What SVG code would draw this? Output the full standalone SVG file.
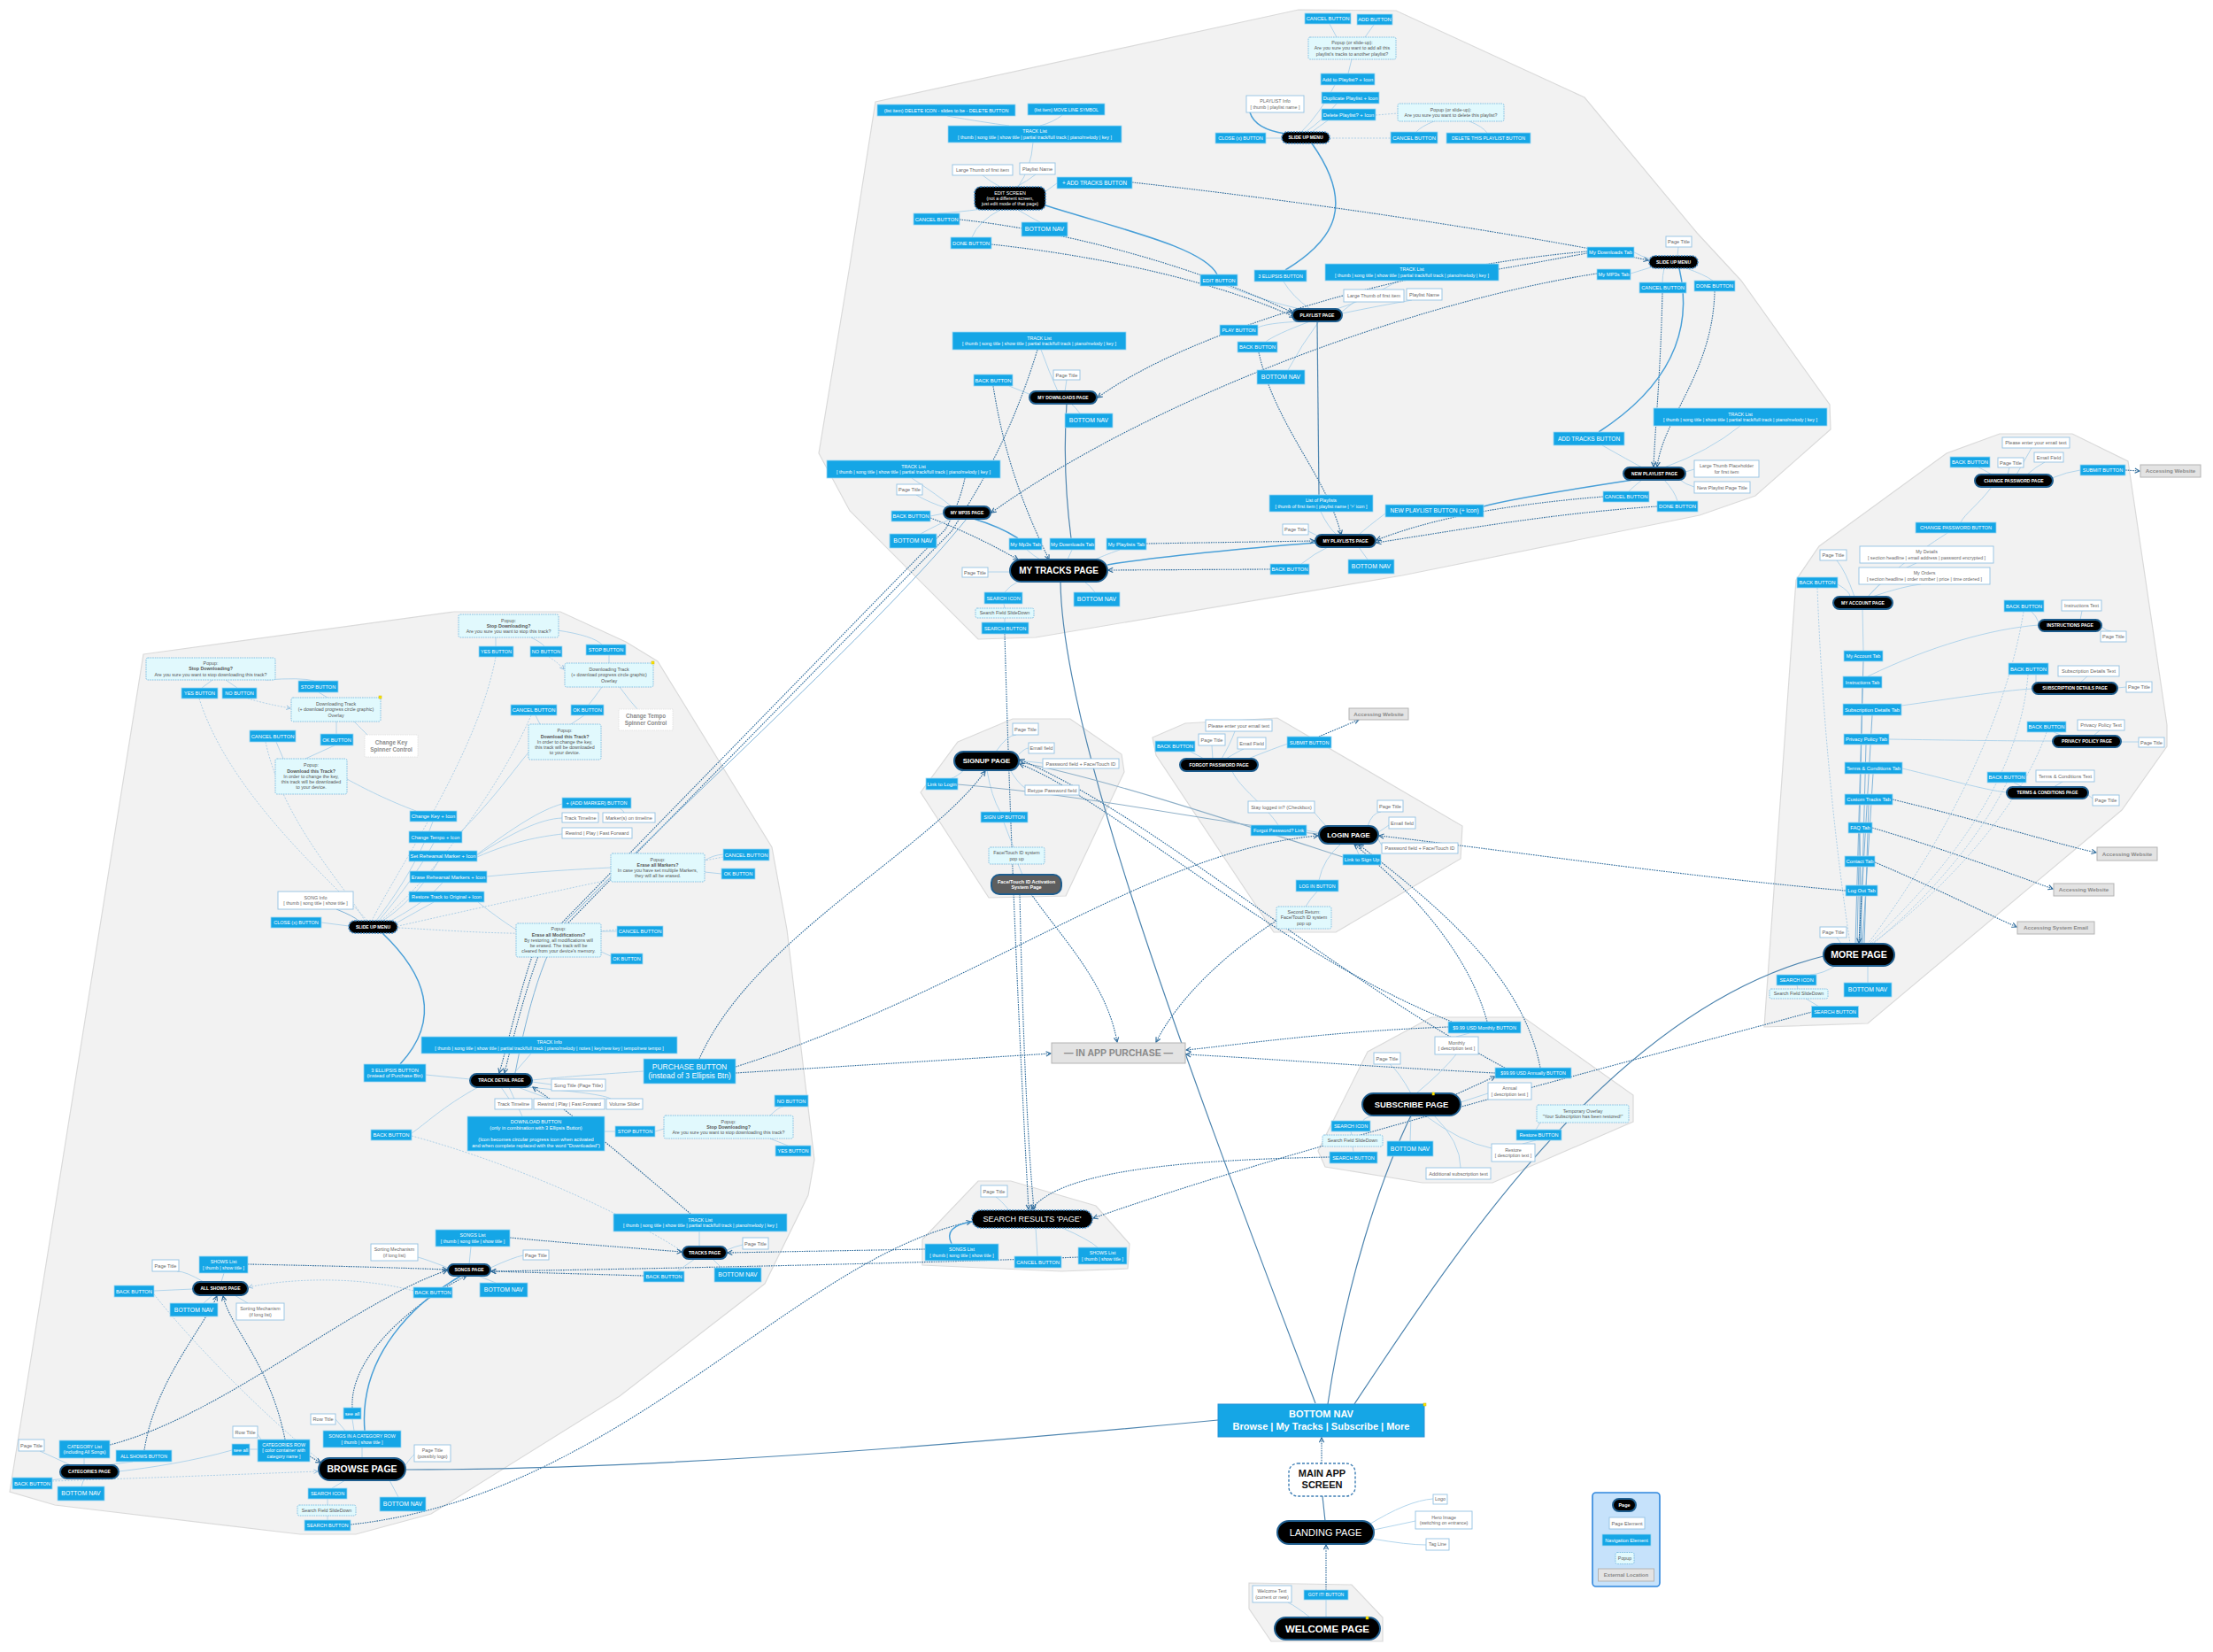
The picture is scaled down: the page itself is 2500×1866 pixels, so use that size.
<svg xmlns="http://www.w3.org/2000/svg" width="2500" height="1866" viewBox="0 0 2500 1866">
<defs>
<style>
text{font-family:"Liberation Sans",Arial,Helvetica,sans-serif;text-anchor:middle}
.grp{fill:#f2f2f2;stroke:#dadada;stroke-width:1.2}
.nv{font-size:5.8px}.nv rect{fill:#15a6e6;stroke:#9fd8f3;stroke-width:.8}.nv text{fill:#fff}
.el{font-size:5.6px}.el rect{fill:#fff;stroke:#93c2e2;stroke-width:.9}.el text{fill:#666}
.pp{font-size:5.3px}.pp rect{fill:#e1f9fd;stroke:#6cb2dc;stroke-width:.8;stroke-dasharray:1.6 1}.pp text{fill:#555}
.pg{font-size:5px;font-weight:bold}.pg rect{fill:#000;stroke:#1e5d8e;stroke-width:2}.pg text{fill:#fff}
.ds rect{stroke:#3d86c2;stroke-dasharray:2 1.2;stroke-width:1.6}
.gy rect{fill:#5e5e5e}
.ex{font-size:6.2px;font-weight:bold}.ex rect{fill:#e3e3e3;stroke:#b3b3b3;stroke-width:1}.ex text{fill:#8a8a8a}
.sp{font-size:6.3px;font-weight:bold}.sp rect{fill:#fff;stroke:#dedede;stroke-width:.8;stroke-dasharray:1.5 1}.sp text{fill:#8a8a8a}
.ms{font-size:11px;font-weight:bold}.ms rect{fill:#fff;stroke:#3f7fb5;stroke-width:1.4;stroke-dasharray:3 2}.ms text{fill:#111}
.l{fill:none;stroke:#a9d0ea;stroke-width:.9}
.t{fill:none;stroke:#7fb3d8;stroke-width:1}
.s{fill:none;stroke:#4f86b0;stroke-width:1.2}
.g{fill:none;stroke:#8fb0c8;stroke-width:1.1}
.b{fill:none;stroke:#4aa0d8;stroke-width:1.5}
.d{fill:none;stroke:#2f6c9c;stroke-width:1.1;stroke-dasharray:1.6 1.1;marker-end:url(#a)}
.d0{fill:none;stroke:#2f6c9c;stroke-width:1.1;stroke-dasharray:1.6 1.1}
.dl{fill:none;stroke:#a6cbe4;stroke-width:.9;stroke-dasharray:2 1.5}
.dla{fill:none;stroke:#a6cbe4;stroke-width:.9;stroke-dasharray:2 1.5;marker-end:url(#b)}
.yd{fill:#ffe800;stroke:#c9b400;stroke-width:.5}
</style>
<marker id="a" viewBox="0 0 8 8" refX="7" refY="4" markerWidth="7" markerHeight="7" markerUnits="userSpaceOnUse" orient="auto"><path d="M1,1 L7,4 L1,7" fill="none" stroke="#2f6c9c" stroke-width="1.3"/></marker>
<marker id="b" viewBox="0 0 8 8" refX="7" refY="4" markerWidth="6" markerHeight="6" markerUnits="userSpaceOnUse" orient="auto"><path d="M1,1 L7,4 L1,7" fill="none" stroke="#8fbde0" stroke-width="1.2"/></marker>
</defs>
<rect width="2500" height="1866" fill="#fff"/>
<g id="groups">
<polygon class="grp" points="989,115 1467,11 1577,12 1790,110 1917,263 1967,317 2067,457 2068,485 1983,560 1920,582 1584,650 1170,720 1105,722 960,577 925,512 960,300"/>
<polygon class="grp" points="2029,655 2055,617 2199,512 2259,490 2341,490 2404,521 2448,819 2448,843 2397,915 2110,1156 1993,1160"/>
<polygon class="grp" points="162,739 513,691 633,691 707,725 743,747 872,957 889,1050 920,1310 913,1350 864,1450 700,1577 487,1710 402,1733 339,1733 62,1700 11,1685"/>
<polygon class="grp" points="1082,838 1144,812 1209,812 1267,852 1270,872 1204,1012 1117,1014 1040,895"/>
<polygon class="grp" points="1302,833 1339,817 1443,811 1652,933 1650,970 1509,1053 1439,1053 1306,853"/>
<polygon class="grp" points="1617,1149 1721,1149 1845,1237 1845,1267 1686,1336 1607,1336 1497,1318 1489,1300 1545,1188"/>
<polygon class="grp" points="1105,1334 1142,1334 1238,1362 1276,1405 1274,1433 1199,1436 1042,1429 1042,1400"/>
<polygon class="grp" points="1411,1788 1527,1790 1562,1827 1562,1854 1436,1854 1411,1817"/>
</g>
<g id="connectors">
<path class="l" d="M1510,42 L1502,27"/>
<path class="l" d="M1542,42 L1552,28"/>
<path class="l" d="M1527,67 L1523,83"/>
<path class="l" d="M1508,96 Q1490,130 1470,149"/>
<path class="l" d="M1510,117 Q1495,135 1475,149"/>
<path class="l" d="M1500,136 Q1490,143 1482,149"/>
<path class="b" d="M1412,127 Q1418,146 1452,151"/>
<path class="dl" d="M1554,130 L1579,128"/>
<path class="l" d="M1620,137 Q1605,143 1600,149"/>
<path class="l" d="M1660,137 Q1675,143 1680,150"/>
<path class="l" d="M1430,156 L1448,156"/>
<path class="dl" d="M1502,156 L1571,156"/>
<path class="b" d="M1482,162 C1530,230 1510,270 1452,305"/>
<path class="l" d="M1070,131 Q1110,138 1140,142"/>
<path class="l" d="M1200,130 Q1190,138 1175,142"/>
<path class="l" d="M1167,161 Q1165,190 1150,211"/>
<path class="l" d="M1110,198 Q1120,206 1130,211"/>
<path class="l" d="M1170,197 Q1160,205 1148,211"/>
<path class="l" d="M1194,207 L1180,217"/>
<path class="l" d="M1110,236 Q1080,240 1060,241"/>
<path class="l" d="M1150,237 Q1165,246 1175,251"/>
<path class="l" d="M1130,237 Q1105,250 1098,268"/>
<path class="b" d="M1181,232 C1270,260 1360,280 1375,310"/>
<path class="l" d="M1385,323 Q1430,340 1468,349"/>
<path class="l" d="M1450,318 Q1460,335 1480,349"/>
<path class="l" d="M1580,317 Q1540,340 1510,349"/>
<path class="l" d="M1516,352 L1530,341"/>
<path class="l" d="M1516,354 Q1560,345 1595,339"/>
<path class="l" d="M1470,363 Q1430,365 1421,370"/>
<path class="l" d="M1480,363 Q1440,378 1430,386"/>
<path class="l" d="M1490,363 Q1470,390 1455,418"/>
<path class="d" d="M1084,248 C1200,260 1350,300 1460,353"/>
<path class="d" d="M1120,276 C1250,290 1380,320 1462,358"/>
<path class="d" d="M1279,206 C1500,230 1750,270 1862,294"/>
<path class="d0" d="M1693,304 C1740,296 1770,290 1793,286"/>
<path class="d" d="M1793,284 C1600,300 1350,370 1240,449"/>
<path class="d" d="M1804,309 C1600,340 1300,450 1120,579"/>
<path class="d" d="M1422,398 C1440,480 1500,540 1515,604"/>
<path class="s" d="M1488,363 L1490,559"/>
<path class="l" d="M1492,578 Q1500,595 1510,604"/>
<path class="l" d="M1565,580 Q1545,595 1535,604"/>
<path class="l" d="M1478,600 L1490,606"/>
<path class="l" d="M1470,637 Q1485,625 1500,618"/>
<path class="l" d="M1545,632 Q1540,625 1535,618"/>
<path class="d" d="M1435,643 L1252,644"/>
<path class="b" d="M1487,613 C1400,620 1300,630 1251,638"/>
<path class="d" d="M1295,614 L1485,611"/>
<path class="l" d="M1160,621 Q1168,628 1175,632"/>
<path class="l" d="M1211,621 L1206,632"/>
<path class="l" d="M1265,621 Q1245,628 1235,633"/>
<path class="b" d="M1100,586 Q1130,595 1150,608"/>
<path class="s" d="M1205,456 Q1200,530 1210,608"/>
<path class="d" d="M1122,436 C1135,520 1160,580 1185,632"/>
<path class="d" d="M1051,585 C1090,600 1120,615 1150,632"/>
<path class="l" d="M1030,540 Q1060,560 1075,572"/>
<path class="l" d="M1035,559 Q1050,568 1070,574"/>
<path class="l" d="M1051,583 L1066,580"/>
<path class="l" d="M1040,603 Q1060,592 1075,586"/>
<path class="l" d="M1176,395 Q1185,420 1195,442"/>
<path class="l" d="M1205,429 L1203,442"/>
<path class="l" d="M1140,436 Q1155,442 1165,446"/>
<path class="l" d="M1220,467 Q1215,460 1210,456"/>
<path class="d" d="M1172,395 C1140,500 1100,560 1075,600 L610,1075 C596,1110 580,1170 570,1212"/>
<path class="d" d="M1090,540 C1086,560 1078,580 1068,598 L603,1075 C590,1110 576,1170 564,1212"/>
<path class="t" d="M1092,586 C1000,700 800,880 640,1040 C610,1080 592,1160 582,1212"/>
<path class="l" d="M1150,657 Q1140,662 1135,669"/>
<path class="l" d="M1141,646 L1116,646"/>
<path class="l" d="M1225,657 Q1232,662 1237,669"/>
<path class="l" d="M1134,682 L1135,687"/>
<path class="l" d="M1135,698 L1135,703"/>
<path class="d" d="M1135,716 C1140,900 1150,1150 1162,1366"/>
<path class="s" d="M1198,657 C1200,820 1320,1150 1486,1585"/>
<path class="l" d="M1895,289 L1896,279"/>
<path class="l" d="M1846,285 Q1855,290 1863,292"/>
<path class="l" d="M1842,309 Q1855,305 1865,302"/>
<path class="l" d="M1880,303 Q1878,312 1878,319"/>
<path class="l" d="M1905,303 Q1925,310 1935,317"/>
<path class="d" d="M1878,331 C1876,420 1870,480 1868,527"/>
<path class="d" d="M1937,329 C1935,420 1880,470 1872,527"/>
<path class="b" d="M1806,488 C1880,440 1915,380 1897,303"/>
<path class="l" d="M1966,481 Q1930,510 1880,528"/>
<path class="l" d="M1810,503 Q1840,520 1855,528"/>
<path class="l" d="M1904,533 L1914,530"/>
<path class="l" d="M1895,540 Q1905,548 1914,550"/>
<path class="l" d="M1855,542 Q1845,550 1840,555"/>
<path class="l" d="M1880,542 Q1892,555 1895,566"/>
<path class="b" d="M1845,542 C1760,555 1700,565 1676,572"/>
<path class="d" d="M1811,561 C1700,570 1620,585 1555,610"/>
<path class="d" d="M1872,572 C1750,580 1640,600 1555,613"/>
<path class="l" d="M1125,849 Q1138,830 1148,830"/>
<path class="l" d="M1151,852 Q1158,845 1162,845"/>
<path class="l" d="M1151,859 L1178,862"/>
<path class="l" d="M1090,869 Q1080,878 1075,879"/>
<path class="l" d="M1140,868 Q1150,885 1158,890"/>
<path class="l" d="M1115,870 Q1120,900 1130,917"/>
<path class="l" d="M1134,929 Q1140,945 1145,957"/>
<path class="l" d="M1150,976 L1155,988"/>
<path class="g" d="M1082,886 C1250,900 1400,935 1490,942"/>
<path class="g" d="M1517,968 C1400,930 1250,880 1152,861"/>
<path class="l" d="M1360,857 L1345,849"/>
<path class="l" d="M1370,857 L1369,842"/>
<path class="l" d="M1380,857 Q1390,840 1395,826"/>
<path class="l" d="M1385,857 Q1400,848 1405,846"/>
<path class="l" d="M1410,857 Q1440,845 1455,840"/>
<path class="d" d="M1490,832 L1535,813"/>
<path class="l" d="M1444,932 C1430,910 1400,890 1392,871"/>
<path class="l" d="M1476,938 L1492,941"/>
<path class="l" d="M1485,918 Q1495,930 1500,935"/>
<path class="l" d="M1545,933 Q1550,918 1560,917"/>
<path class="l" d="M1557,940 Q1565,935 1569,932"/>
<path class="l" d="M1557,948 L1561,955"/>
<path class="l" d="M1530,953 L1535,965"/>
<path class="l" d="M1515,953 Q1495,970 1490,994"/>
<path class="l" d="M1488,1007 Q1480,1015 1475,1024"/>
<path class="d" d="M1442,1040 C1380,1080 1330,1130 1306,1177"/>
<path class="d" d="M1165,1010 C1200,1060 1250,1110 1262,1177"/>
<path class="d" d="M1152,1010 C1155,1150 1160,1280 1168,1366"/>
<path class="d" d="M790,1196 C850,1060 1050,960 1113,871"/>
<path class="d" d="M831,1205 C1100,1120 1300,960 1489,944"/>
<path class="d" d="M831,1212 L1187,1190"/>
<path class="d" d="M1636,1160 C1500,1165 1400,1180 1340,1186"/>
<path class="d" d="M1689,1212 C1550,1205 1420,1195 1340,1191"/>
<path class="d" d="M1640,1154 C1450,1080 1250,900 1152,863"/>
<path class="d" d="M1700,1206 C1500,1100 1300,920 1152,858"/>
<path class="d" d="M1680,1154 C1660,1080 1600,1010 1530,954"/>
<path class="d" d="M1740,1206 C1720,1100 1620,1020 1535,954"/>
<path class="d" d="M2085,1006 C1900,990 1700,960 1558,944"/>
<path class="l" d="M1594,1235 Q1580,1210 1570,1202"/>
<path class="l" d="M1600,1235 Q1630,1210 1645,1191"/>
<path class="l" d="M1645,1171 L1660,1167"/>
<path class="d" d="M1645,1236 L1689,1216"/>
<path class="l" d="M1650,1245 L1681,1235"/>
<path class="l" d="M1610,1260 Q1650,1290 1685,1297"/>
<path class="l" d="M1620,1260 Q1650,1290 1650,1319"/>
<path class="l" d="M1560,1258 Q1540,1262 1540,1266"/>
<path class="l" d="M1594,1260 L1593,1289"/>
<path class="l" d="M1740,1268 L1735,1276"/>
<path class="l" d="M1735,1288 L1720,1292"/>
<path class="l" d="M1526,1278 L1527,1282"/>
<path class="l" d="M1528,1295 L1529,1301"/>
<path class="d" d="M1502,1307 C1350,1310 1200,1320 1165,1366"/>
<path class="d" d="M2047,1143 C1800,1210 1450,1300 1235,1376"/>
<path class="d" d="M396,1722 C700,1690 900,1420 1097,1380"/>
<path class="l" d="M1140,1367 Q1130,1355 1125,1352"/>
<path class="l" d="M1170,1387 L1172,1419"/>
<path class="l" d="M1200,1387 Q1230,1400 1240,1409"/>
<path class="b" d="M1075,1405 Q1065,1385 1098,1380"/>
<path class="d" d="M1045,1411 L822,1415"/>
<path class="d" d="M1218,1420 C1100,1425 800,1432 555,1436"/>
<path class="s" d="M1500,1586 C1520,1450 1560,1330 1594,1260"/>
<path class="s" d="M1530,1586 C1640,1420 1820,1140 2060,1080"/>
<path class="s" d="M1376,1604 C1000,1640 700,1660 459,1660"/>
<path class="d" d="M1493,1653 L1493,1624"/>
<path class="s" d="M1494,1690 L1497,1718"/>
<path class="l" d="M1545,1723 Q1590,1695 1619,1693"/>
<path class="l" d="M1552,1728 L1599,1718"/>
<path class="l" d="M1550,1738 Q1590,1745 1611,1745"/>
<path class="d" d="M1498,1796 L1498,1745"/>
<path class="l" d="M1498,1827 L1498,1807"/>
<path class="l" d="M1480,1827 Q1465,1815 1455,1810"/>
<path class="l" d="M2250,536 Q2240,530 2235,528"/>
<path class="l" d="M2268,536 L2270,528"/>
<path class="l" d="M2278,536 Q2290,515 2295,506"/>
<path class="l" d="M2290,536 Q2300,527 2310,522"/>
<path class="l" d="M2318,540 Q2335,533 2350,531"/>
<path class="d" d="M2401,531 L2417,532"/>
<path class="l" d="M2250,550 C2235,570 2220,580 2215,590"/>
<path class="l" d="M2200,602 Q2140,640 2110,674"/>
<path class="l" d="M2095,674 Q2085,645 2075,633"/>
<path class="l" d="M2110,674 Q2130,650 2165,636"/>
<path class="l" d="M2115,674 Q2150,662 2170,660"/>
<path class="l" d="M2076,660 Q2090,668 2090,674"/>
<path class="l" d="M2104,688 L2105,735"/>
<path class="l" d="M2110,764 C2180,730 2250,710 2303,706"/>
<path class="l" d="M2148,797 C2200,790 2260,780 2296,778"/>
<path class="l" d="M2134,835 C2200,836 2270,837 2319,837"/>
<path class="l" d="M2149,868 C2200,880 2240,892 2267,895"/>
<path class="l" d="M2303,703 Q2300,695 2295,691"/>
<path class="l" d="M2350,700 L2352,690"/>
<path class="l" d="M2374,708 Q2380,713 2385,713"/>
<path class="l" d="M2300,771 L2300,762"/>
<path class="l" d="M2350,771 L2358,764"/>
<path class="l" d="M2392,777 L2402,776"/>
<path class="l" d="M2330,831 L2320,827"/>
<path class="l" d="M2365,831 L2372,825"/>
<path class="l" d="M2396,838 L2416,838"/>
<path class="l" d="M2285,889 L2275,884"/>
<path class="l" d="M2320,889 L2330,883"/>
<path class="l" d="M2359,898 L2364,902"/>
<path class="d" d="M2138,903 C2250,930 2330,955 2368,963"/>
<path class="d" d="M2115,935 C2200,960 2280,990 2319,1004"/>
<path class="d" d="M2118,974 C2180,1000 2240,1030 2278,1047"/>
<path class="t" d="M2105,747 L2096,1066"/>
<path class="t" d="M2104,777 L2098,1066"/>
<path class="t" d="M2115,808 L2100,1066"/>
<path class="t" d="M2108,841 L2102,1066"/>
<path class="t" d="M2116,874 L2104,1066"/>
<path class="t" d="M2111,909 L2106,1066"/>
<path class="t" d="M2101,941 L2103,1066"/>
<path class="t" d="M2101,979 L2101,1066"/>
<path class="d" d="M2103,1012 L2100,1065"/>
<path class="dl" d="M2053,664 C2060,850 2080,1000 2090,1066"/>
<path class="dl" d="M2286,691 C2260,850 2160,1000 2110,1066"/>
<path class="dl" d="M2291,762 C2280,900 2170,1010 2112,1066"/>
<path class="dl" d="M2312,827 C2280,920 2180,1020 2114,1066"/>
<path class="dl" d="M2267,884 C2230,960 2160,1030 2116,1066"/>
<path class="l" d="M2080,1066 L2075,1059"/>
<path class="l" d="M2075,1090 Q2060,1100 2045,1101"/>
<path class="l" d="M2110,1091 L2110,1110"/>
<path class="l" d="M2030,1113 L2031,1117"/>
<path class="l" d="M2040,1128 L2055,1137"/>
<path class="l" d="M560,720 L560,730"/>
<path class="l" d="M600,720 Q612,726 615,730"/>
<path class="l" d="M630,712 Q670,718 680,728"/>
<path class="dla" d="M620,742 Q630,748 637,756"/>
<path class="l" d="M688,740 L688,749"/>
<path class="l" d="M680,776 Q670,790 665,796"/>
<path class="l" d="M700,776 Q710,790 720,801"/>
<path class="l" d="M610,818 L605,808"/>
<path class="l" d="M645,818 L660,808"/>
<path class="l" d="M520,940 C560,900 580,870 597,850"/>
<path class="l" d="M240,768 L228,777"/>
<path class="l" d="M255,768 L268,777"/>
<path class="l" d="M300,768 Q340,765 355,769"/>
<path class="l" d="M360,782 L370,788"/>
<path class="dla" d="M280,789 Q300,795 328,800"/>
<path class="l" d="M380,815 L380,829"/>
<path class="l" d="M400,815 Q410,825 415,830"/>
<path class="l" d="M320,857 L312,838"/>
<path class="l" d="M345,857 L378,842"/>
<path class="l" d="M470,916 C440,905 410,890 392,880"/>
<path class="l" d="M489,928 C470,980 440,1020 425,1040"/>
<path class="l" d="M490,952 C470,990 440,1025 428,1040"/>
<path class="l" d="M495,973 C480,1000 450,1030 432,1040"/>
<path class="l" d="M500,997 C480,1020 450,1035 440,1041"/>
<path class="l" d="M490,1019 Q470,1030 447,1043"/>
<path class="t" d="M380,1027 Q400,1035 405,1040"/>
<path class="l" d="M363,1042 L394,1046"/>
<path class="dl" d="M225,789 C260,900 380,1000 415,1040"/>
<path class="dl" d="M560,742 C540,850 450,980 420,1040"/>
<path class="dl" d="M300,838 C320,930 390,1000 412,1040"/>
<path class="dl" d="M600,808 C560,900 480,1000 430,1040"/>
<path class="l" d="M539,965 C580,935 610,915 635,908"/>
<path class="l" d="M539,966 C580,940 610,925 635,924"/>
<path class="l" d="M539,968 C580,950 610,945 635,942"/>
<path class="l" d="M700,913 Q705,916 705,918"/>
<path class="l" d="M550,990 C600,985 650,982 690,980"/>
<path class="l" d="M796,972 Q805,966 817,965"/>
<path class="l" d="M796,985 L815,987"/>
<path class="l" d="M540,1019 C560,1035 575,1045 583,1050"/>
<path class="l" d="M679,1052 L697,1052"/>
<path class="l" d="M679,1075 L690,1080"/>
<path class="dl" d="M817,968 C700,990 520,1030 450,1046"/>
<path class="dl" d="M697,1050 C600,1060 500,1050 450,1048"/>
<path class="b" d="M432,1054 C480,1100 500,1150 452,1202"/>
<path class="l" d="M600,1190 L580,1213"/>
<path class="l" d="M481,1214 L531,1219"/>
<path class="l" d="M601,1220 C650,1215 700,1212 727,1210"/>
<path class="l" d="M601,1222 L623,1225"/>
<path class="l" d="M566,1228 L575,1241"/>
<path class="l" d="M585,1228 L620,1241"/>
<path class="l" d="M595,1228 Q680,1235 690,1241"/>
<path class="l" d="M575,1228 L590,1261"/>
<path class="l" d="M540,1228 C500,1250 480,1270 465,1280"/>
<path class="l" d="M683,1278 L695,1278"/>
<path class="l" d="M740,1278 L750,1275"/>
<path class="l" d="M870,1260 Q880,1250 885,1250"/>
<path class="l" d="M870,1286 Q885,1292 890,1294"/>
<path class="d" d="M780,1371 C720,1320 650,1260 602,1228"/>
<path class="dl" d="M465,1283 C600,1320 720,1380 770,1413"/>
<path class="l" d="M790,1391 L790,1408"/>
<path class="l" d="M821,1412 Q830,1408 839,1406"/>
<path class="l" d="M785,1422 L765,1436"/>
<path class="l" d="M805,1422 L815,1432"/>
<path class="d" d="M727,1441 L555,1436"/>
<path class="d" d="M576,1398 C650,1405 720,1410 770,1414"/>
<path class="l" d="M530,1428 L532,1408"/>
<path class="l" d="M506,1432 Q480,1422 472,1420"/>
<path class="l" d="M554,1432 Q580,1420 591,1418"/>
<path class="l" d="M520,1441 L500,1454"/>
<path class="l" d="M540,1441 L560,1449"/>
<path class="d" d="M280,1428 C380,1430 450,1432 505,1434"/>
<path class="l" d="M250,1448 L253,1438"/>
<path class="l" d="M230,1448 Q210,1436 200,1436"/>
<path class="l" d="M218,1456 L174,1458"/>
<path class="l" d="M240,1463 L230,1472"/>
<path class="l" d="M265,1463 L280,1472"/>
<path class="dla" d="M467,1458 C400,1440 320,1445 281,1454"/>
<path class="dl" d="M174,1462 C220,1520 300,1600 362,1650"/>
<path class="d" d="M398,1590 C395,1530 470,1470 527,1441"/>
<path class="b" d="M412,1616 C405,1530 470,1470 521,1441"/>
<path class="d" d="M322,1626 C305,1540 260,1500 252,1464"/>
<path class="d" d="M163,1638 C175,1560 230,1500 245,1464"/>
<path class="d" d="M124,1632 C250,1600 400,1470 505,1435"/>
<path class="l" d="M398,1603 L400,1616"/>
<path class="l" d="M379,1603 L390,1616"/>
<path class="l" d="M409,1635 L409,1647"/>
<path class="d" d="M350,1645 L362,1652"/>
<path class="l" d="M291,1620 L295,1626"/>
<path class="l" d="M282,1637 L291,1637"/>
<path class="l" d="M262,1638 C220,1650 170,1658 134,1662"/>
<path class="l" d="M458,1655 Q465,1645 468,1643"/>
<path class="l" d="M390,1672 L375,1681"/>
<path class="l" d="M440,1672 L450,1691"/>
<path class="l" d="M370,1693 L370,1700"/>
<path class="l" d="M370,1712 L370,1717"/>
<path class="dla" d="M59,1673 C150,1670 280,1665 359,1662"/>
<path class="l" d="M80,1655 L45,1639"/>
<path class="l" d="M95,1655 L95,1647"/>
<path class="l" d="M120,1655 L150,1651"/>
<path class="l" d="M75,1670 L55,1672"/>
<path class="l" d="M95,1670 L92,1679"/>
</g>
<g id="nodes">
<g id="t1" class="nv" transform="translate(1500,21)"><rect x="-26" y="-6" width="52" height="12"/><text y="2">CANCEL BUTTON</text></g>
<g id="t2" class="nv" transform="translate(1553,22)"><rect x="-20" y="-6" width="40" height="12"/><text y="2">ADD BUTTON</text></g>
<g id="t3" class="pp" transform="translate(1527.5,54.5)"><rect x="-49.5" y="-12.5" width="99" height="25" rx="2"/><text y="-4.5"><tspan x="0">Popup (or slide-up):</tspan><tspan x="0" dy="6.3">Are you sure you want to add all this</tspan><tspan x="0" dy="6.3">playlist's tracks to another playlist?</tspan></text></g>
<g id="t4" class="nv" transform="translate(1522.5,89.5)"><rect x="-30.5" y="-6.5" width="61" height="13"/><text y="2">Add to Playlist? + Icon</text></g>
<g id="t5" class="nv" transform="translate(1525.5,110.5)"><rect x="-32.5" y="-6.5" width="65" height="13"/><text y="2">Duplicate Playlist + Icon</text></g>
<g id="t6" class="el" transform="translate(1440.5,117.5)"><rect x="-32.5" y="-9.5" width="65" height="19"/><text y="-1.3" font-size="5.3"><tspan x="0">PLAYLIST Info</tspan><tspan x="0" dy="6.4">[ thumb | playlist name ]</tspan></text></g>
<g id="t7" class="nv" transform="translate(1523.5,129.5)"><rect x="-30.5" y="-6.5" width="61" height="13"/><text y="2">Delete Playlist? + Icon</text></g>
<g id="t8" class="pp" transform="translate(1639,127)"><rect x="-60" y="-10" width="120" height="20" rx="2"/><text y="-1.3"><tspan x="0">Popup (or slide-up):</tspan><tspan x="0" dy="6.4">Are you sure you want to delete this playlist?</tspan></text></g>
<g id="t9" class="pg ds" transform="translate(1475,155.5)"><rect x="-27" y="-6.5" width="54" height="13" rx="6.5"/><text y="1.8">SLIDE UP MENU</text></g>
<g id="t10" class="nv" transform="translate(1401.5,156)"><rect x="-28.5" y="-6" width="57" height="12"/><text y="2" font-size="5.5">CLOSE (x) BUTTON</text></g>
<g id="t11" class="nv" transform="translate(1597.5,155.5)"><rect x="-26.5" y="-6.5" width="53" height="13"/><text y="2">CANCEL BUTTON</text></g>
<g id="t12" class="nv" transform="translate(1681.5,156)"><rect x="-47.5" y="-6" width="95" height="12"/><text y="2" font-size="5.3">DELETE THIS PLAYLIST BUTTON</text></g>
<g id="t13" class="nv" transform="translate(1069,124.5)"><rect x="-78" y="-6.5" width="156" height="13"/><text y="2" font-size="5.4">(list item) DELETE ICON - slides to be - DELETE BUTTON</text></g>
<g id="t14" class="nv" transform="translate(1204.5,123.5)"><rect x="-43.5" y="-6.5" width="87" height="13"/><text y="2" font-size="5.1">(list item) MOVE LINE SYMBOL</text></g>
<g id="t15" class="nv" transform="translate(1169,151.5)"><rect x="-98" y="-9.5" width="196" height="19"/><text y="-1.3" font-size="5.3"><tspan x="0">TRACK List</tspan><tspan x="0" dy="6.4">[ thumb | song title | show title | partial track/full track | piano/melody | key ]</tspan></text></g>
<g id="t16" class="el" transform="translate(1110,192)"><rect x="-34" y="-6" width="68" height="12"/><text y="2" font-size="5.4">Large Thumb of first item</text></g>
<g id="t17" class="el" transform="translate(1172,190.5)"><rect x="-20" y="-6.5" width="40" height="13"/><text y="2">Playlist Name</text></g>
<g id="t18" class="nv" transform="translate(1236.5,206.5)"><rect x="-42.5" y="-6.5" width="85" height="13"/><text y="2.2" font-size="6.3">+ ADD TRACKS BUTTON</text></g>
<g id="t19" class="pg ds" transform="translate(1141,224)"><rect x="-40" y="-13" width="80" height="26" rx="7"/><text y="-4.45" font-size="5.3" font-weight="normal"><tspan x="0">EDIT SCREEN</tspan><tspan x="0" dy="6.3">(not a different screen,</tspan><tspan x="0" dy="6.3">just edit mode of that page)</tspan></text></g>
<g id="t20" class="nv" transform="translate(1058,247.5)"><rect x="-26" y="-6.5" width="52" height="13"/><text y="2">CANCEL BUTTON</text></g>
<g id="t21" class="nv" transform="translate(1180,259)"><rect x="-26" y="-8" width="52" height="16"/><text y="2.4" font-size="6.8">BOTTOM NAV</text></g>
<g id="t22" class="nv" transform="translate(1097,274.5)"><rect x="-23" y="-6.5" width="46" height="13"/><text y="2">DONE BUTTON</text></g>
<g id="t23" class="nv" transform="translate(1377,316.5)"><rect x="-21" y="-6.5" width="42" height="13"/><text y="2" font-size="5.6">EDIT BUTTON</text></g>
<g id="t24" class="nv" transform="translate(1446.5,311.5)"><rect x="-29.5" y="-6.5" width="59" height="13"/><text y="2" font-size="5.3">3 ELLIPSIS BUTTON</text></g>
<g id="t25" class="nv" transform="translate(1595,307.5)"><rect x="-98" y="-9.5" width="196" height="19"/><text y="-1.3" font-size="5.3"><tspan x="0">TRACK List</tspan><tspan x="0" dy="6.4">[ thumb | song title | show title | partial track/full track | piano/melody | key ]</tspan></text></g>
<g id="t26" class="pg" transform="translate(1488,356)"><rect x="-28" y="-7" width="56" height="14" rx="7"/><text y="1.8">PLAYLIST PAGE</text></g>
<g id="t27" class="el" transform="translate(1552,334)"><rect x="-34" y="-7" width="68" height="14"/><text y="2" font-size="5.4">Large Thumb of first item</text></g>
<g id="t28" class="el" transform="translate(1609,332.5)"><rect x="-20" y="-6.5" width="40" height="13"/><text y="2">Playlist Name</text></g>
<g id="t29" class="nv" transform="translate(1399.5,373)"><rect x="-21.5" y="-6" width="43" height="12"/><text y="2" font-size="5.6">PLAY BUTTON</text></g>
<g id="t30" class="nv" transform="translate(1420.5,392)"><rect x="-22.5" y="-6" width="45" height="12"/><text y="2">BACK BUTTON</text></g>
<g id="t31" class="nv" transform="translate(1447,426)"><rect x="-27" y="-8" width="54" height="16"/><text y="2.4" font-size="6.8">BOTTOM NAV</text></g>
<g id="t32" class="nv" transform="translate(1174,385)"><rect x="-98" y="-10" width="196" height="20"/><text y="-1.3" font-size="5.3"><tspan x="0">TRACK List</tspan><tspan x="0" dy="6.4">[ thumb | song title | show title | partial track/full track | piano/melody | key ]</tspan></text></g>
<g id="t33" class="el" transform="translate(1205,423.5)"><rect x="-15" y="-5.5" width="30" height="11"/><text y="2">Page Title</text></g>
<g id="t34" class="nv" transform="translate(1122,429.5)"><rect x="-22" y="-6.5" width="44" height="13"/><text y="2">BACK BUTTON</text></g>
<g id="t35" class="pg" transform="translate(1201,449)"><rect x="-38" y="-7" width="76" height="14" rx="7"/><text y="1.8">MY DOWNLOADS PAGE</text></g>
<g id="t36" class="nv" transform="translate(1230,475)"><rect x="-27" y="-8" width="54" height="16"/><text y="2.4" font-size="6.8">BOTTOM NAV</text></g>
<g id="t37" class="nv" transform="translate(1032,530)"><rect x="-98" y="-10" width="196" height="20"/><text y="-1.3" font-size="5.3"><tspan x="0">TRACK List</tspan><tspan x="0" dy="6.4">[ thumb | song title | show title | partial track/full track | piano/melody | key ]</tspan></text></g>
<g id="t38" class="el" transform="translate(1027.5,553)"><rect x="-14.5" y="-6" width="29" height="12"/><text y="2">Page Title</text></g>
<g id="t39" class="nv" transform="translate(1029,583)"><rect x="-22" y="-6" width="44" height="12"/><text y="2">BACK BUTTON</text></g>
<g id="t40" class="pg" transform="translate(1092.5,579)"><rect x="-26.5" y="-7" width="53" height="14" rx="7"/><text y="1.8">MY MP3S PAGE</text></g>
<g id="t41" class="nv" transform="translate(1031.5,611)"><rect x="-26.5" y="-8" width="53" height="16"/><text y="2.4" font-size="6.8">BOTTOM NAV</text></g>
<g id="t42" class="nv" transform="translate(1158.5,614.5)"><rect x="-18.5" y="-6.5" width="37" height="13"/><text y="2">My Mp3s Tab</text></g>
<g id="t43" class="nv" transform="translate(1211.5,614.5)"><rect x="-25.5" y="-6.5" width="51" height="13"/><text y="2">My Downloads Tab</text></g>
<g id="t44" class="nv" transform="translate(1272.5,614.5)"><rect x="-22.5" y="-6.5" width="45" height="13"/><text y="2">My Playlists Tab</text></g>
<g id="t45" class="pg" transform="translate(1196,644.5)"><rect x="-55" y="-12.5" width="110" height="25" rx="12.5" stroke-width="2.6"/><text y="3.5" font-size="10">MY TRACKS PAGE</text></g>
<g id="t46" class="el" transform="translate(1101.5,646.5)"><rect x="-14.5" y="-5.5" width="29" height="11"/><text y="2">Page Title</text></g>
<g id="t47" class="nv" transform="translate(1133.5,675.5)"><rect x="-21.5" y="-6.5" width="43" height="13"/><text y="2" font-size="5.5">SEARCH ICON</text></g>
<g id="t48" class="pp" transform="translate(1135,692.5)"><rect x="-33" y="-5.5" width="66" height="11" rx="2"/><text y="1.9">Search Field SlideDown</text></g>
<g id="t49" class="nv" transform="translate(1135.5,709.5)"><rect x="-26.5" y="-6.5" width="53" height="13"/><text y="2" font-size="5.6">SEARCH BUTTON</text></g>
<g id="t50" class="nv" transform="translate(1239,677)"><rect x="-26" y="-8" width="52" height="16"/><text y="2.4" font-size="6.8">BOTTOM NAV</text></g>
<g id="t51" class="nv" transform="translate(1492.5,568.5)"><rect x="-58.5" y="-9.5" width="117" height="19"/><text y="-1.3" font-size="5.3"><tspan x="0">List of Playlists</tspan><tspan x="0" dy="6.4">[ thumb of first item | playlist name | '&gt;' icon ]</tspan></text></g>
<g id="t52" class="nv" transform="translate(1620.5,577)"><rect x="-55.5" y="-7" width="111" height="14"/><text y="2.3" font-size="6.6">NEW PLAYLIST BUTTON (+ icon)</text></g>
<g id="t53" class="el" transform="translate(1463.5,598)"><rect x="-14.5" y="-6" width="29" height="12"/><text y="2">Page Title</text></g>
<g id="t54" class="pg" transform="translate(1520,611)"><rect x="-34" y="-7" width="68" height="14" rx="7"/><text y="1.8">MY PLAYLISTS PAGE</text></g>
<g id="t55" class="nv" transform="translate(1457,643)"><rect x="-22" y="-6" width="44" height="12"/><text y="2">BACK BUTTON</text></g>
<g id="t56" class="nv" transform="translate(1549,640)"><rect x="-26" y="-8" width="52" height="16"/><text y="2.4" font-size="6.8">BOTTOM NAV</text></g>
<g id="t57" class="el" transform="translate(1896.5,273)"><rect x="-14.5" y="-6" width="29" height="12"/><text y="2">Page Title</text></g>
<g id="t58" class="nv" transform="translate(1819.5,285)"><rect x="-26.5" y="-6" width="53" height="12"/><text y="2">My Downloads Tab</text></g>
<g id="t59" class="pg ds" transform="translate(1890.5,296)"><rect x="-27.5" y="-7" width="55" height="14" rx="7"/><text y="1.8">SLIDE UP MENU</text></g>
<g id="t60" class="nv" transform="translate(1823,310)"><rect x="-19" y="-6" width="38" height="12"/><text y="2">My MP3s Tab</text></g>
<g id="t61" class="nv" transform="translate(1878.5,325)"><rect x="-26.5" y="-6" width="53" height="12"/><text y="2">CANCEL BUTTON</text></g>
<g id="t62" class="nv" transform="translate(1937,323)"><rect x="-23" y="-6" width="46" height="12"/><text y="2">DONE BUTTON</text></g>
<g id="t63" class="nv" transform="translate(1966,471)"><rect x="-98" y="-10" width="196" height="20"/><text y="-1.3" font-size="5.3"><tspan x="0">TRACK List</tspan><tspan x="0" dy="6.4">[ thumb | song title | show title | partial track/full track | piano/melody | key ]</tspan></text></g>
<g id="t64" class="nv" transform="translate(1795,495.5)"><rect x="-40" y="-7.5" width="80" height="15"/><text y="2.3" font-size="6.5">ADD TRACKS BUTTON</text></g>
<g id="t65" class="pg" transform="translate(1869,535)"><rect x="-35" y="-7" width="70" height="14" rx="7"/><text y="1.8">NEW PLAYLIST PAGE</text></g>
<g id="t66" class="el" transform="translate(1950.5,529.5)"><rect x="-36.5" y="-9.5" width="73" height="19"/><text y="-1.3" font-size="5.3"><tspan x="0">Large Thumb Placeholder</tspan><tspan x="0" dy="6.4">for first item</tspan></text></g>
<g id="t67" class="el" transform="translate(1945.5,550.5)"><rect x="-31.5" y="-6.5" width="63" height="13"/><text y="2">New Playlist Page Title</text></g>
<g id="t68" class="nv" transform="translate(1837,561)"><rect x="-26" y="-6" width="52" height="12"/><text y="2">CANCEL BUTTON</text></g>
<g id="t69" class="nv" transform="translate(1895,572)"><rect x="-23" y="-6" width="46" height="12"/><text y="2">DONE BUTTON</text></g>

<g id="r1" class="el" transform="translate(2300,500)"><rect x="-38" y="-6" width="76" height="12"/><text y="2">Please enter your email text</text></g>
<g id="r2" class="el" transform="translate(2314.5,516.5)"><rect x="-16.5" y="-5.5" width="33" height="11"/><text y="2">Email Field</text></g>
<g id="r3" class="nv" transform="translate(2225.5,522)"><rect x="-22.5" y="-6" width="45" height="12"/><text y="2">BACK BUTTON</text></g>
<g id="r4" class="el" transform="translate(2271.5,522.5)"><rect x="-14.5" y="-5.5" width="29" height="11"/><text y="2">Page Title</text></g>
<g id="r5" class="nv" transform="translate(2375.5,531)"><rect x="-25.5" y="-6" width="51" height="12"/><text y="2" font-size="5.6">SUBMIT BUTTON</text></g>
<g id="r6" class="ex" transform="translate(2452,532)"><rect x="-34" y="-7" width="68" height="14"/><text y="2.2">Accessing Website</text></g>
<g id="r7" class="pg" transform="translate(2275,543)"><rect x="-44" y="-7" width="88" height="14" rx="7"/><text y="1.8">CHANGE PASSWORD PAGE</text></g>
<g id="r8" class="nv" transform="translate(2209.5,596)"><rect x="-45.5" y="-6" width="91" height="12"/><text y="2" font-size="5.5">CHANGE PASSWORD BUTTON</text></g>
<g id="r9" class="el" transform="translate(2071,627)"><rect x="-15" y="-6" width="30" height="12"/><text y="2">Page Title</text></g>
<g id="r10" class="el" transform="translate(2176.5,626.5)"><rect x="-75.5" y="-9.5" width="151" height="19"/><text y="-1.3" font-size="5.3"><tspan x="0">My Details</tspan><tspan x="0" dy="6.4">[ section headline | email address | password encrypted ]</tspan></text></g>
<g id="r11" class="el" transform="translate(2174,650.5)"><rect x="-74" y="-9.5" width="148" height="19"/><text y="-1.3" font-size="5.3"><tspan x="0">My Orders</tspan><tspan x="0" dy="6.4">[ section headline | order number | price | time ordered ]</tspan></text></g>
<g id="r12" class="nv" transform="translate(2053,658)"><rect x="-23" y="-6" width="46" height="12"/><text y="2">BACK BUTTON</text></g>
<g id="r13" class="pg" transform="translate(2104.5,681)"><rect x="-33.5" y="-7" width="67" height="14" rx="7"/><text y="1.8">MY ACCOUNT PAGE</text></g>
<g id="r14" class="nv" transform="translate(2286.5,684.5)"><rect x="-22.5" y="-6.5" width="45" height="13"/><text y="2">BACK BUTTON</text></g>
<g id="r15" class="el" transform="translate(2351.5,684)"><rect x="-22.5" y="-6" width="45" height="12"/><text y="2" font-size="5.4">Instructions Text</text></g>
<g id="r16" class="pg" transform="translate(2338.5,706.5)"><rect x="-35.5" y="-6.5" width="71" height="13" rx="6.5"/><text y="1.8">INSTRUCTIONS PAGE</text></g>
<g id="r17" class="el" transform="translate(2387.5,719)"><rect x="-14.5" y="-6" width="29" height="12"/><text y="2">Page Title</text></g>
<g id="r18" class="nv" transform="translate(2105,741)"><rect x="-22" y="-6" width="44" height="12"/><text y="2" font-size="5.5">My Account Tab</text></g>
<g id="r19" class="nv" transform="translate(2104,770.5)"><rect x="-22" y="-6.5" width="44" height="13"/><text y="2" font-size="5.5">Instructions Tab</text></g>
<g id="r20" class="nv" transform="translate(2291.5,755.5)"><rect x="-22.5" y="-6.5" width="45" height="13"/><text y="2">BACK BUTTON</text></g>
<g id="r21" class="el" transform="translate(2359.5,758)"><rect x="-34.5" y="-6" width="69" height="12"/><text y="2">Subscription Details Text</text></g>
<g id="r22" class="pg" transform="translate(2344,777.5)"><rect x="-48" y="-6.5" width="96" height="13" rx="6.5"/><text y="1.8" font-size="4.9">SUBSCRIPTION DETAILS PAGE</text></g>
<g id="r23" class="el" transform="translate(2416.5,776)"><rect x="-14.5" y="-6" width="29" height="12"/><text y="2">Page Title</text></g>
<g id="r24" class="nv" transform="translate(2115,801.5)"><rect x="-33" y="-6.5" width="66" height="13"/><text y="2">Subscription Details Tab</text></g>
<g id="r25" class="nv" transform="translate(2312,821)"><rect x="-22" y="-6" width="44" height="12"/><text y="2">BACK BUTTON</text></g>
<g id="r26" class="el" transform="translate(2373.5,819)"><rect x="-26.5" y="-6" width="53" height="12"/><text y="2">Privacy Policy Text</text></g>
<g id="r27" class="pg" transform="translate(2357.5,837.5)"><rect x="-38.5" y="-6.5" width="77" height="13" rx="6.5"/><text y="1.8">PRIVACY POLICY PAGE</text></g>
<g id="r28" class="el" transform="translate(2430.5,838.5)"><rect x="-14.5" y="-5.5" width="29" height="11"/><text y="2">Page Title</text></g>
<g id="r29" class="nv" transform="translate(2108.5,835)"><rect x="-25.5" y="-6" width="51" height="12"/><text y="2">Privacy Policy Tab</text></g>
<g id="r30" class="nv" transform="translate(2116.5,867.5)"><rect x="-32.5" y="-6.5" width="65" height="13"/><text y="2">Terms &amp; Conditions Tab</text></g>
<g id="r31" class="nv" transform="translate(2267,878)"><rect x="-22" y="-6" width="44" height="12"/><text y="2">BACK BUTTON</text></g>
<g id="r32" class="el" transform="translate(2333,876.5)"><rect x="-33" y="-6.5" width="66" height="13"/><text y="2">Terms &amp; Conditions Text</text></g>
<g id="r33" class="pg" transform="translate(2313,895.5)"><rect x="-46" y="-6.5" width="92" height="13" rx="6.5"/><text y="1.8" font-size="4.9">TERMS &amp; CONDITIONS PAGE</text></g>
<g id="r34" class="el" transform="translate(2379,904)"><rect x="-15" y="-6" width="30" height="12"/><text y="2">Page Title</text></g>
<g id="r35" class="nv" transform="translate(2111,903)"><rect x="-27" y="-6" width="54" height="12"/><text y="2">Custom Tracks Tab</text></g>
<g id="r36" class="nv" transform="translate(2101.5,935)"><rect x="-13.5" y="-6" width="27" height="12"/><text y="2">FAQ Tab</text></g>
<g id="r37" class="nv" transform="translate(2101,973)"><rect x="-17" y="-6" width="34" height="12"/><text y="2">Contact Tab</text></g>
<g id="r38" class="nv" transform="translate(2103,1006)"><rect x="-18" y="-6" width="36" height="12"/><text y="2">Log Out Tab</text></g>
<g id="r39" class="ex" transform="translate(2403,964.5)"><rect x="-34" y="-7.5" width="68" height="15"/><text y="2.2">Accessing Website</text></g>
<g id="r40" class="ex" transform="translate(2354,1005)"><rect x="-34" y="-7" width="68" height="14"/><text y="2.2">Accessing Website</text></g>
<g id="r41" class="ex" transform="translate(2322.5,1048)"><rect x="-43.5" y="-7" width="87" height="14"/><text y="2.2">Accessing System Email</text></g>
<g id="r42" class="el" transform="translate(2071,1053)"><rect x="-15" y="-6" width="30" height="12"/><text y="2">Page Title</text></g>
<g id="r43" class="pg" transform="translate(2100,1078.5)"><rect x="-40" y="-12.5" width="80" height="25" rx="12.5" stroke-width="2.6"/><text y="3.7" font-size="10.5">MORE PAGE</text></g>
<g id="r44" class="nv" transform="translate(2029.5,1107)"><rect x="-22.5" y="-6" width="45" height="12"/><text y="2" font-size="5.5">SEARCH ICON</text></g>
<g id="r45" class="nv" transform="translate(2110,1118)"><rect x="-27" y="-8" width="54" height="16"/><text y="2.4" font-size="6.8">BOTTOM NAV</text></g>
<g id="r46" class="pp" transform="translate(2032,1122.5)"><rect x="-33" y="-5.5" width="66" height="11" rx="2"/><text y="1.9">Search Field SlideDown</text></g>
<g id="r47" class="nv" transform="translate(2073,1143)"><rect x="-26.5" y="-6.5" width="53" height="13"/><text y="2" font-size="5.6">SEARCH BUTTON</text></g>

<g id="l1" class="pp" transform="translate(574.5,707)"><rect x="-56.5" y="-13" width="113" height="26" rx="2"/><text y="-4.45"><tspan x="0">Popup:</tspan><tspan x="0" dy="6.3" font-weight="bold">Stop Downloading?</tspan><tspan x="0" dy="6.3">Are you sure you want to stop  this track?</tspan></text></g>
<g id="l2" class="nv" transform="translate(560.5,736)"><rect x="-19.5" y="-6" width="39" height="12"/><text y="2" font-size="5.5">YES BUTTON</text></g>
<g id="l3" class="nv" transform="translate(617,736)"><rect x="-18" y="-6" width="36" height="12"/><text y="2" font-size="5.5">NO BUTTON</text></g>
<g id="l4" class="nv" transform="translate(684.5,734)"><rect x="-22.5" y="-6" width="45" height="12"/><text y="2" font-size="5.6">STOP BUTTON</text></g>
<g id="l5" class="pp" transform="translate(688,762.5)"><rect x="-50" y="-13.5" width="100" height="27" rx="2"/><text y="-4.45"><tspan x="0">Downloading Track</tspan><tspan x="0" dy="6.3">(+ download progress circle graphic)</tspan><tspan x="0" dy="6.3">Overlay</tspan></text></g>
<g id="l6" class="nv" transform="translate(603,802)"><rect x="-26" y="-6" width="52" height="12"/><text y="2">CANCEL BUTTON</text></g>
<g id="l7" class="nv" transform="translate(663.5,802)"><rect x="-18.5" y="-6" width="37" height="12"/><text y="2" font-size="5.6">OK BUTTON</text></g>
<g id="l8" class="sp" transform="translate(729.5,813)"><rect x="-30.5" y="-12" width="61" height="24"/><text y="-1.6"><tspan x="0">Change Tempo</tspan><tspan x="0" dy="7.6">Spinner Control</tspan></text></g>
<g id="l9" class="pp" transform="translate(638,838)"><rect x="-41" y="-20" width="82" height="40" rx="2"/><text y="-10.55"><tspan x="0">Popup:</tspan><tspan x="0" dy="6.2" font-weight="bold">Download this Track?</tspan><tspan x="0" dy="6.2">In order to change the key,</tspan><tspan x="0" dy="6.2">this track will be downloaded</tspan><tspan x="0" dy="6.2">to your device.</tspan></text></g>
<g id="l10" class="pp" transform="translate(238,755.5)"><rect x="-73" y="-12.5" width="146" height="25" rx="2"/><text y="-4.45"><tspan x="0">Popup:</tspan><tspan x="0" dy="6.3" font-weight="bold">Stop Downloading?</tspan><tspan x="0" dy="6.3">Are you sure you want to stop downloading this track?</tspan></text></g>
<g id="l11" class="nv" transform="translate(225.5,783)"><rect x="-20.5" y="-6" width="41" height="12"/><text y="2" font-size="5.5">YES BUTTON</text></g>
<g id="l12" class="nv" transform="translate(270.5,783)"><rect x="-19.5" y="-6" width="39" height="12"/><text y="2" font-size="5.5">NO BUTTON</text></g>
<g id="l13" class="nv" transform="translate(359.5,775.5)"><rect x="-22.5" y="-6.5" width="45" height="13"/><text y="2" font-size="5.6">STOP BUTTON</text></g>
<g id="l14" class="pp" transform="translate(379.5,801.5)"><rect x="-50.5" y="-13.5" width="101" height="27" rx="2"/><text y="-4.45"><tspan x="0">Downloading Track</tspan><tspan x="0" dy="6.3">(+ download progress circle graphic)</tspan><tspan x="0" dy="6.3">Overlay</tspan></text></g>
<g id="l15" class="nv" transform="translate(308,831.5)"><rect x="-26" y="-6.5" width="52" height="13"/><text y="2">CANCEL BUTTON</text></g>
<g id="l16" class="nv" transform="translate(380.5,835.5)"><rect x="-18.5" y="-6.5" width="37" height="13"/><text y="2" font-size="5.6">OK BUTTON</text></g>
<g id="l17" class="sp" transform="translate(442,842.5)"><rect x="-30" y="-12.5" width="60" height="25"/><text y="-1.6"><tspan x="0">Change Key</tspan><tspan x="0" dy="7.6">Spinner Control</tspan></text></g>
<g id="l18" class="pp" transform="translate(351.5,877)"><rect x="-40.5" y="-20" width="81" height="40" rx="2"/><text y="-10.55"><tspan x="0">Popup:</tspan><tspan x="0" dy="6.2" font-weight="bold">Download this Track?</tspan><tspan x="0" dy="6.2">In order to change the key,</tspan><tspan x="0" dy="6.2">this track will be downloaded</tspan><tspan x="0" dy="6.2">to your device.</tspan></text></g>
<g id="l19" class="nv" transform="translate(489.5,922)"><rect x="-26.5" y="-6" width="53" height="12"/><text y="2">Change Key + Icon</text></g>
<g id="l20" class="nv" transform="translate(492,945.5)"><rect x="-30" y="-6.5" width="60" height="13"/><text y="2" font-size="5.6">Change Tempo + Icon</text></g>
<g id="l21" class="nv" transform="translate(500.5,967)"><rect x="-38.5" y="-6" width="77" height="12"/><text y="2">Set Rehearsal Marker + Icon</text></g>
<g id="l22" class="nv" transform="translate(506.5,990.5)"><rect x="-43.5" y="-6.5" width="87" height="13"/><text y="2">Erase Rehearsal Markers + Icon</text></g>
<g id="l23" class="nv" transform="translate(504.5,1013)"><rect x="-42.5" y="-6" width="85" height="12"/><text y="2" font-size="5.6">Restore Track to Original + Icon</text></g>
<g id="l24" class="nv" transform="translate(674,907)"><rect x="-39" y="-6" width="78" height="12"/><text y="2" font-size="5.5">+ (ADD MARKER) BUTTON</text></g>
<g id="l25" class="el" transform="translate(655.5,923.5)"><rect x="-20.5" y="-5.5" width="41" height="11"/><text y="2">Track Timeline</text></g>
<g id="l26" class="el" transform="translate(710.5,923.5)"><rect x="-29.5" y="-5.5" width="59" height="11"/><text y="2">Marker(s) on timeline</text></g>
<g id="l27" class="el" transform="translate(674.5,941)"><rect x="-39.5" y="-6" width="79" height="12"/><text y="2">Rewind | Play | Fast Forward</text></g>
<g id="l28" class="pp" transform="translate(743,980)"><rect x="-53" y="-16" width="106" height="32" rx="2"/><text y="-7.45"><tspan x="0">Popup:</tspan><tspan x="0" dy="6.2" font-weight="bold">Erase all Markers?</tspan><tspan x="0" dy="6.2">In case you have set multiple Markers,</tspan><tspan x="0" dy="6.2">they will all be erased.</tspan></text></g>
<g id="l29" class="nv" transform="translate(843,965.5)"><rect x="-26" y="-6.5" width="52" height="13"/><text y="2">CANCEL BUTTON</text></g>
<g id="l30" class="nv" transform="translate(834,987)"><rect x="-19" y="-6" width="38" height="12"/><text y="2" font-size="5.6">OK BUTTON</text></g>
<g id="l31" class="el" transform="translate(356.5,1017)"><rect x="-42.5" y="-10" width="85" height="20"/><text y="-1.3" font-size="5.3"><tspan x="0">SONG Info</tspan><tspan x="0" dy="6.4">[ thumb | song title | show title ]</tspan></text></g>
<g id="l32" class="nv" transform="translate(334.5,1042)"><rect x="-28.5" y="-6" width="57" height="12"/><text y="2" font-size="5.5">CLOSE (x) BUTTON</text></g>
<g id="l33" class="pg ds" transform="translate(421.5,1047)"><rect x="-27.5" y="-7" width="55" height="14" rx="7"/><text y="1.8">SLIDE UP MENU</text></g>
<g id="l34" class="pp" transform="translate(631,1062)"><rect x="-48" y="-19" width="96" height="38" rx="2"/><text y="-10.55"><tspan x="0">Popup:</tspan><tspan x="0" dy="6.2" font-weight="bold">Erase all Modifications?</tspan><tspan x="0" dy="6.2">By restoring, all modifications will</tspan><tspan x="0" dy="6.2">be erased. The track will be</tspan><tspan x="0" dy="6.2">cleared from your device's memory.</tspan></text></g>
<g id="l35" class="nv" transform="translate(723,1052)"><rect x="-26" y="-6" width="52" height="12"/><text y="2">CANCEL BUTTON</text></g>
<g id="l36" class="nv" transform="translate(708,1083)"><rect x="-18" y="-6" width="36" height="12"/><text y="2" font-size="5.4">OK BUTTON</text></g>
<g id="l37" class="nv" transform="translate(620.5,1180.5)"><rect x="-144.5" y="-9.5" width="289" height="19"/><text y="-1.3" font-size="5.3"><tspan x="0">TRACK Info</tspan><tspan x="0" dy="6.4">[ thumb | song title | show title | partial track/full track | piano/melody | notes | key/new key | tempo/new tempo ]</tspan></text></g>
<g id="l38" class="nv" transform="translate(446,1212)"><rect x="-35" y="-10" width="70" height="20"/><text y="-1.4" font-size="5.6"><tspan x="0">3 ELLIPSIS BUTTON</tspan><tspan x="0" dy="6.7">(instead of Purchase Btn)</tspan></text></g>
<g id="l39" class="nv" transform="translate(779,1210)"><rect x="-52" y="-14" width="104" height="28"/><text y="-2.1" font-size="8.5"><tspan x="0">PURCHASE BUTTON</tspan><tspan x="0" dy="10.2">(instead of 3 Ellipsis Btn)</tspan></text></g>
<g id="l40" class="pg" transform="translate(566,1220.5)"><rect x="-35" y="-7.5" width="70" height="15" rx="7.5"/><text y="1.8">TRACK DETAIL PAGE</text></g>
<g id="l41" class="el" transform="translate(653.5,1225.5)"><rect x="-30.5" y="-6.5" width="61" height="13"/><text y="2">Song Title (Page Title)</text></g>
<g id="l42" class="el" transform="translate(580,1247)"><rect x="-21" y="-6" width="42" height="12"/><text y="2">Track Timeline</text></g>
<g id="l43" class="el" transform="translate(643,1247)"><rect x="-40" y="-6" width="80" height="12"/><text y="2">Rewind | Play | Fast Forward</text></g>
<g id="l44" class="el" transform="translate(705.5,1247)"><rect x="-20.5" y="-6" width="41" height="12"/><text y="2">Volume Slider</text></g>
<g id="l45" class="nv" transform="translate(605.5,1280.5)"><rect x="-77.5" y="-19.5" width="155" height="39"/><text y="-11.6" font-size="5.6"><tspan x="0">DOWNLOAD BUTTON</tspan><tspan x="0" dy="6.8">(only in combination with 3 Ellipsis Button)</tspan><tspan x="0" dy="13.6">(Icon becomes circular progress icon when activated</tspan><tspan x="0" dy="6.8">and when complete replaced with the word "Downloaded")</tspan></text></g>
<g id="l46" class="nv" transform="translate(442,1282)"><rect x="-23" y="-6" width="46" height="12"/><text y="2">BACK BUTTON</text></g>
<g id="l47" class="nv" transform="translate(717.5,1278)"><rect x="-22.5" y="-6" width="45" height="12"/><text y="2" font-size="5.6">STOP BUTTON</text></g>
<g id="l48" class="pp" transform="translate(823,1273)"><rect x="-73" y="-13" width="146" height="26" rx="2"/><text y="-4.45"><tspan x="0">Popup:</tspan><tspan x="0" dy="6.3" font-weight="bold">Stop Downloading?</tspan><tspan x="0" dy="6.3">Are you sure you want to stop downloading this track?</tspan></text></g>
<g id="l49" class="nv" transform="translate(894,1243.5)"><rect x="-19" y="-6.5" width="38" height="13"/><text y="2" font-size="5.5">NO BUTTON</text></g>
<g id="l50" class="nv" transform="translate(896,1300)"><rect x="-20" y="-6" width="40" height="12"/><text y="2" font-size="5.5">YES BUTTON</text></g>
<g id="l51" class="nv" transform="translate(791,1381)"><rect x="-98" y="-10" width="196" height="20"/><text y="-1.3" font-size="5.3"><tspan x="0">TRACK List</tspan><tspan x="0" dy="6.4">[ thumb | song title | show title | partial track/full track | piano/melody | key ]</tspan></text></g>
<g id="l52" class="el" transform="translate(853.5,1404.5)"><rect x="-14.5" y="-6.5" width="29" height="13"/><text y="2">Page Title</text></g>
<g id="l53" class="pg" transform="translate(796,1415)"><rect x="-25" y="-7" width="50" height="14" rx="7"/><text y="1.8">TRACKS PAGE</text></g>
<g id="l54" class="nv" transform="translate(750,1442)"><rect x="-23" y="-6" width="46" height="12"/><text y="2">BACK BUTTON</text></g>
<g id="l55" class="nv" transform="translate(833.5,1440)"><rect x="-26.5" y="-8" width="53" height="16"/><text y="2.4" font-size="6.8">BOTTOM NAV</text></g>
<g id="l56" class="nv" transform="translate(534,1398.5)"><rect x="-42" y="-9.5" width="84" height="19"/><text y="-1.3" font-size="5.3"><tspan x="0">SONGS List</tspan><tspan x="0" dy="6.4">[ thumb | song title | show title ]</tspan></text></g>
<g id="l57" class="el" transform="translate(445.5,1414.5)"><rect x="-26.5" y="-9.5" width="53" height="19"/><text y="-1.3" font-size="5.3"><tspan x="0">Sorting Mechanism</tspan><tspan x="0" dy="6.4">(if long list)</tspan></text></g>
<g id="l58" class="el" transform="translate(605.5,1417.5)"><rect x="-14.5" y="-5.5" width="29" height="11"/><text y="2">Page Title</text></g>
<g id="l59" class="pg" transform="translate(530,1434.5)"><rect x="-24" y="-6.5" width="48" height="13" rx="6.5"/><text y="1.8">SONGS PAGE</text></g>
<g id="l60" class="nv" transform="translate(489,1460)"><rect x="-22" y="-6" width="44" height="12"/><text y="2">BACK BUTTON</text></g>
<g id="l61" class="nv" transform="translate(569,1457)"><rect x="-27" y="-8" width="54" height="16"/><text y="2.4" font-size="6.8">BOTTOM NAV</text></g>
<g id="l62" class="el" transform="translate(187,1429.5)"><rect x="-15" y="-6.5" width="30" height="13"/><text y="2">Page Title</text></g>
<g id="l63" class="nv" transform="translate(252.5,1428.5)"><rect x="-27.5" y="-9.5" width="55" height="19"/><text y="-1.3" font-size="5.3"><tspan x="0">SHOWS List</tspan><tspan x="0" dy="6.4">[ thumb | show title ]</tspan></text></g>
<g id="l64" class="nv" transform="translate(151.5,1458.5)"><rect x="-22.5" y="-6.5" width="45" height="13"/><text y="2">BACK BUTTON</text></g>
<g id="l65" class="pg" transform="translate(249,1455.5)"><rect x="-31" y="-7.5" width="62" height="15" rx="7.5"/><text y="1.8">ALL SHOWS PAGE</text></g>
<g id="l66" class="nv" transform="translate(219,1479.5)"><rect x="-27" y="-7.5" width="54" height="15"/><text y="2.4" font-size="6.8">BOTTOM NAV</text></g>
<g id="l67" class="el" transform="translate(294,1481.5)"><rect x="-27" y="-9.5" width="54" height="19"/><text y="-1.3" font-size="5.3"><tspan x="0">Sorting Mechanism</tspan><tspan x="0" dy="6.4">(if long list)</tspan></text></g>
<g id="l68" class="nv" transform="translate(398,1596.5)"><rect x="-10" y="-6.5" width="20" height="13"/><text y="2">see all</text></g>
<g id="l69" class="el" transform="translate(365,1603)"><rect x="-14" y="-6" width="28" height="12"/><text y="2">Row Title</text></g>
<g id="l70" class="nv" transform="translate(409,1625.5)"><rect x="-44" y="-9.5" width="88" height="19"/><text y="-1.3" font-size="5.3"><tspan x="0">SONGS IN A CATEGORY ROW</tspan><tspan x="0" dy="6.4">[ thumb | show title ]</tspan></text></g>
<g id="l71" class="el" transform="translate(277,1617.5)"><rect x="-14" y="-6.5" width="28" height="13"/><text y="2">Row Title</text></g>
<g id="l72" class="nv" transform="translate(320.5,1638.5)"><rect x="-29.5" y="-12.5" width="59" height="25"/><text y="-4.45" font-size="5.3"><tspan x="0">CATEGORIES ROW</tspan><tspan x="0" dy="6.3">[ color container with</tspan><tspan x="0" dy="6.3">category name ]</tspan></text></g>
<g id="l73" class="nv" transform="translate(272,1637.5)"><rect x="-10" y="-6.5" width="20" height="13"/><text y="2">see all</text></g>
<g id="l74" class="el" transform="translate(35.5,1632.5)"><rect x="-14.5" y="-6.5" width="29" height="13"/><text y="2">Page Title</text></g>
<g id="l75" class="nv" transform="translate(95.5,1637)"><rect x="-28.5" y="-10" width="57" height="20"/><text y="-1.3" font-size="5.3"><tspan x="0">CATEGORY List</tspan><tspan x="0" dy="6.4">(including All Songs)</tspan></text></g>
<g id="l76" class="nv" transform="translate(162.5,1644.5)"><rect x="-31.5" y="-6.5" width="63" height="13"/><text y="2" font-size="5.2">ALL SHOWS BUTTON</text></g>
<g id="l77" class="pg" transform="translate(101,1662.5)"><rect x="-33" y="-7.5" width="66" height="15" rx="7.5"/><text y="1.8">CATEGORIES PAGE</text></g>
<g id="l78" class="nv" transform="translate(36.5,1675.5)"><rect x="-22.5" y="-6.5" width="45" height="13"/><text y="2">BACK BUTTON</text></g>
<g id="l79" class="nv" transform="translate(91.5,1687)"><rect x="-26.5" y="-8" width="53" height="16"/><text y="2.4" font-size="6.8">BOTTOM NAV</text></g>
<g id="l80" class="pg" transform="translate(409,1659.5)"><rect x="-49" y="-12.5" width="98" height="25" rx="12.5" stroke-width="2.6"/><text y="3.7" font-size="10.5">BROWSE PAGE</text></g>
<g id="l81" class="el" transform="translate(488.5,1641.5)"><rect x="-20.5" y="-9.5" width="41" height="19"/><text y="-1.3" font-size="5.3"><tspan x="0">Page Title</tspan><tspan x="0" dy="6.4">(possibly logo)</tspan></text></g>
<g id="l82" class="nv" transform="translate(370,1687)"><rect x="-22" y="-6" width="44" height="12"/><text y="2" font-size="5.5">SEARCH ICON</text></g>
<g id="l83" class="pp" transform="translate(369,1706)"><rect x="-33" y="-6" width="66" height="12" rx="2"/><text y="1.9">Search Field SlideDown</text></g>
<g id="l84" class="nv" transform="translate(370,1723)"><rect x="-26" y="-6" width="52" height="12"/><text y="2" font-size="5.5">SEARCH BUTTON</text></g>
<g id="l85" class="nv" transform="translate(455,1699)"><rect x="-26" y="-8" width="52" height="16"/><text y="2.4" font-size="6.8">BOTTOM NAV</text></g>

<g id="c1" class="el" transform="translate(1158.5,823.5)"><rect x="-14.5" y="-6.5" width="29" height="13"/><text y="2">Page Title</text></g>
<g id="c2" class="el" transform="translate(1176.5,845)"><rect x="-14.5" y="-6" width="29" height="12"/><text y="2">Email field</text></g>
<g id="c3" class="pg" transform="translate(1114.5,859.5)"><rect x="-36.5" y="-10.5" width="73" height="21" rx="10.5" stroke-width="2.6"/><text y="2.7" font-size="7.8">SIGNUP PAGE</text></g>
<g id="c4" class="el" transform="translate(1221,862.5)"><rect x="-43" y="-5.5" width="86" height="11"/><text y="2">Password field + Face/Touch ID</text></g>
<g id="c5" class="nv" transform="translate(1064,885.5)"><rect x="-18" y="-6.5" width="36" height="13"/><text y="2">Link to Login</text></g>
<g id="c6" class="el" transform="translate(1188.5,892.5)"><rect x="-30.5" y="-5.5" width="61" height="11"/><text y="2">Retype Password field</text></g>
<g id="c7" class="nv" transform="translate(1134.5,923)"><rect x="-26.5" y="-6" width="53" height="12"/><text y="2" font-size="5.5">SIGN UP BUTTON</text></g>
<g id="c8" class="pp" transform="translate(1148.5,966.5)"><rect x="-31.5" y="-9.5" width="63" height="19" rx="2"/><text y="-1.3"><tspan x="0">Face/Touch ID system</tspan><tspan x="0" dy="6.4">pop up</tspan></text></g>
<g id="c9" class="pg gy" transform="translate(1159.5,999)"><rect x="-39.5" y="-11" width="79" height="22" rx="9"/><text y="-1.4" font-size="5.5"><tspan x="0">Face/Touch ID Activation</tspan><tspan x="0" dy="6.6">System Page</tspan></text></g>
<g id="c10" class="ex" transform="translate(1557.5,806.5)"><rect x="-33.5" y="-6.5" width="67" height="13"/><text y="2.2">Accessing Website</text></g>
<g id="c11" class="el" transform="translate(1399.5,819.5)"><rect x="-37.5" y="-6.5" width="75" height="13"/><text y="2">Please enter your email text</text></g>
<g id="c12" class="el" transform="translate(1369,835.5)"><rect x="-15" y="-6.5" width="30" height="13"/><text y="2">Page Title</text></g>
<g id="c13" class="el" transform="translate(1414,839.5)"><rect x="-16" y="-6.5" width="32" height="13"/><text y="2">Email Field</text></g>
<g id="c14" class="nv" transform="translate(1479,838.5)"><rect x="-25" y="-6.5" width="50" height="13"/><text y="2" font-size="5.5">SUBMIT BUTTON</text></g>
<g id="c15" class="nv" transform="translate(1327.5,843)"><rect x="-22.5" y="-6" width="45" height="12"/><text y="2">BACK BUTTON</text></g>
<g id="c16" class="pg" transform="translate(1377,864)"><rect x="-44" y="-7" width="88" height="14" rx="7"/><text y="1.8">FORGOT PASSWORD PAGE</text></g>
<g id="c17" class="el" transform="translate(1447.5,911.5)"><rect x="-37.5" y="-6.5" width="75" height="13"/><text y="2">Stay logged in? (Checkbox)</text></g>
<g id="c18" class="el" transform="translate(1570.5,910.5)"><rect x="-14.5" y="-6.5" width="29" height="13"/><text y="2">Page Title</text></g>
<g id="c19" class="el" transform="translate(1584,929.5)"><rect x="-15" y="-6.5" width="30" height="13"/><text y="2">Email field</text></g>
<g id="c20" class="nv" transform="translate(1444.5,938)"><rect x="-31.5" y="-6" width="63" height="12"/><text y="2" font-size="5.6">Forgot Password? Link</text></g>
<g id="c21" class="pg" transform="translate(1523.5,943)"><rect x="-33.5" y="-10" width="67" height="20" rx="10" stroke-width="2.6"/><text y="2.7" font-size="7.8">LOGIN PAGE</text></g>
<g id="c22" class="el" transform="translate(1604,958)"><rect x="-43" y="-6" width="86" height="12"/><text y="2">Password field + Face/Touch ID</text></g>
<g id="c23" class="nv" transform="translate(1538.5,971)"><rect x="-21.5" y="-6" width="43" height="12"/><text y="2">Link to Sign Up</text></g>
<g id="c24" class="nv" transform="translate(1488,1000.5)"><rect x="-24" y="-6.5" width="48" height="13"/><text y="2" font-size="5.3">LOG IN BUTTON</text></g>
<g id="c25" class="pp" transform="translate(1473,1036.5)"><rect x="-31" y="-12.5" width="62" height="25" rx="2"/><text y="-4.45"><tspan x="0">Second Return:</tspan><tspan x="0" dy="6.3">Face/Touch ID system</tspan><tspan x="0" dy="6.3">pop up</tspan></text></g>
<g id="c26" class="ex" transform="translate(1263.5,1189.5)"><rect x="-75.5" y="-11.5" width="151" height="23"/><text y="3.6" font-size="10.5">— IN APP PURCHASE —</text></g>
<g id="c27" class="nv" transform="translate(1677,1160.5)"><rect x="-41" y="-6.5" width="82" height="13"/><text y="2" font-size="5.5">$9.99 USD Monthly BUTTON</text></g>
<g id="c28" class="el" transform="translate(1645.5,1181)"><rect x="-24.5" y="-10" width="49" height="20"/><text y="-1.3" font-size="5.3"><tspan x="0">Monthly</tspan><tspan x="0" dy="6.4">[ description text ]</tspan></text></g>
<g id="c29" class="el" transform="translate(1567,1195.5)"><rect x="-15" y="-6.5" width="30" height="13"/><text y="2">Page Title</text></g>
<g id="c30" class="nv" transform="translate(1732,1212)"><rect x="-43" y="-6" width="86" height="12"/><text y="2" font-size="5.3">$99.99 USD Annually BUTTON</text></g>
<g id="c31" class="el" transform="translate(1705.5,1232.5)"><rect x="-24.5" y="-9.5" width="49" height="19"/><text y="-1.3" font-size="5.3"><tspan x="0">Annual</tspan><tspan x="0" dy="6.4">[ description text ]</tspan></text></g>
<g id="c32" class="pg" transform="translate(1594.5,1247.5)"><rect x="-55.5" y="-12.5" width="111" height="25" rx="12.5" stroke-width="2.6"/><text y="3.3" font-size="9.4">SUBSCRIBE PAGE</text></g>
<g id="c33" class="pp" transform="translate(1788,1258)"><rect x="-52" y="-10" width="104" height="20" rx="2"/><text y="-1.3"><tspan x="0">Temporary Overlay</tspan><tspan x="0" dy="6.4">"Your Subscription has been restored!"</tspan></text></g>
<g id="c34" class="nv" transform="translate(1526,1272)"><rect x="-22" y="-6" width="44" height="12"/><text y="2" font-size="5.5">SEARCH ICON</text></g>
<g id="c35" class="pp" transform="translate(1528,1288.5)"><rect x="-34" y="-6.5" width="68" height="13" rx="2"/><text y="1.9">Search Field SlideDown</text></g>
<g id="c36" class="nv" transform="translate(1738.5,1282)"><rect x="-25.5" y="-6" width="51" height="12"/><text y="2" font-size="5.6">Restore BUTTON</text></g>
<g id="c37" class="nv" transform="translate(1593,1297.5)"><rect x="-26" y="-8.5" width="52" height="17"/><text y="2.4" font-size="6.8">BOTTOM NAV</text></g>
<g id="c38" class="el" transform="translate(1709.5,1302)"><rect x="-24.5" y="-10" width="49" height="20"/><text y="-1.3" font-size="5.3"><tspan x="0">Restore</tspan><tspan x="0" dy="6.4">[ description text ]</tspan></text></g>
<g id="c39" class="nv" transform="translate(1529,1307.5)"><rect x="-27" y="-6.5" width="54" height="13"/><text y="2" font-size="5.6">SEARCH BUTTON</text></g>
<g id="c40" class="el" transform="translate(1647.5,1325.5)"><rect x="-36.5" y="-6.5" width="73" height="13"/><text y="2">Additional subscription text</text></g>
<g id="c41" class="el" transform="translate(1123,1345.5)"><rect x="-15" y="-6.5" width="30" height="13"/><text y="2">Page Title</text></g>
<g id="c42" class="pg ds" transform="translate(1166,1377)"><rect x="-68" y="-10" width="136" height="20" rx="10"/><text y="3.1" font-size="9" font-weight="normal">SEARCH RESULTS 'PAGE'</text></g>
<g id="c43" class="nv" transform="translate(1086.5,1414.5)"><rect x="-41.5" y="-9.5" width="83" height="19"/><text y="-1.3" font-size="5.3"><tspan x="0">SONGS List</tspan><tspan x="0" dy="6.4">[ thumb | song title | show title ]</tspan></text></g>
<g id="c44" class="nv" transform="translate(1172.5,1425.5)"><rect x="-26.5" y="-6.5" width="53" height="13"/><text y="2">CANCEL BUTTON</text></g>
<g id="c45" class="nv" transform="translate(1245.5,1418.5)"><rect x="-27.5" y="-9.5" width="55" height="19"/><text y="-1.3" font-size="5.3"><tspan x="0">SHOWS List</tspan><tspan x="0" dy="6.4">[ thumb | show title ]</tspan></text></g>

<g id="b1" class="nv" transform="translate(1492.5,1604.5)"><rect x="-116.5" y="-18.5" width="233" height="37" style="stroke:#2a92d6;stroke-width:1"/><text y="-3.8" font-size="11" font-weight="bold"><tspan x="0">BOTTOM NAV</tspan><tspan x="0" dy="14">Browse | My Tracks | Subscribe | More</tspan></text></g>
<g id="b2" class="ms" transform="translate(1493.5,1671.5)"><rect x="-37.5" y="-18.5" width="75" height="37" rx="10"/><text y="-3.6"><tspan x="0">MAIN APP</tspan><tspan x="0" dy="13.5">SCREEN</tspan></text></g>
<g id="b3" class="el" transform="translate(1627,1693.5)"><rect x="-8" y="-5.5" width="16" height="11"/><text y="1.9" font-size="5.3">Logo</text></g>
<g id="b4" class="el" transform="translate(1631,1717)"><rect x="-32" y="-10" width="64" height="20"/><text y="-1.3" font-size="5.3"><tspan x="0">Hero Image</tspan><tspan x="0" dy="6.4">(switching on entrance)</tspan></text></g>
<g id="b5" class="pg" transform="translate(1497.5,1731)"><rect x="-54.5" y="-13" width="109" height="26" rx="13" stroke-width="2.6"/><text y="3.8" font-size="11" font-weight="normal">LANDING PAGE</text></g>
<g id="b6" class="el" transform="translate(1624,1744.5)"><rect x="-13" y="-6.5" width="26" height="13"/><text y="1.9" font-size="5.3">Tag Line</text></g>
<g id="b7" class="el" transform="translate(1437,1800.5)"><rect x="-22" y="-9.5" width="44" height="19"/><text y="-1.3" font-size="5.3"><tspan x="0">Welcome Text</tspan><tspan x="0" dy="6.4">(current or new)</tspan></text></g>
<g id="b8" class="nv" transform="translate(1498,1801.5)"><rect x="-25" y="-5.5" width="50" height="11"/><text y="1.8" font-size="5.1">GOT IT! BUTTON</text></g>
<g id="b9" class="pg" transform="translate(1499.5,1839.5)"><rect x="-59.5" y="-12.5" width="119" height="25" rx="12.5" stroke-width="2.6"/><text y="4" font-size="11.5">WELCOME PAGE</text></g>

<rect class="yd" x="736" y="747" width="3" height="3"/>
<rect class="yd" x="428" y="786" width="3" height="3"/>
<rect class="yd" x="1608" y="1585" width="3" height="3"/>
<rect class="yd" x="1543" y="1826" width="3" height="3"/>
<rect class="yd" x="1618" y="1234" width="2.5" height="3"/>

<g id="legend">
<rect x="1799" y="1686" width="76" height="106" rx="4" fill="#c6e2fb" stroke="#2f87dd" stroke-width="1.6"/>
<g class="pg" transform="translate(1835,1700)"><rect x="-13" y="-7" width="26" height="14" rx="7"/><text y="2" font-size="5.5">Page</text></g>
<g class="el" transform="translate(1838,1720.5)"><rect x="-20" y="-6.5" width="40" height="13"/><text y="2">Page Element</text></g>
<g class="nv" transform="translate(1837.5,1739.5)"><rect x="-27.5" y="-6.5" width="55" height="13"/><text y="2" font-size="5.6">Navigation Element</text></g>
<g class="pp" transform="translate(1835.5,1760)"><rect x="-10.5" y="-6.5" width="21" height="13" rx="2"/><text y="1.9">Popup</text></g>
<g class="ex" transform="translate(1837,1779)"><rect x="-31.5" y="-7" width="63" height="14"/><text y="2.1" font-size="6">External Location</text></g>
</g>
</g>
</svg>
